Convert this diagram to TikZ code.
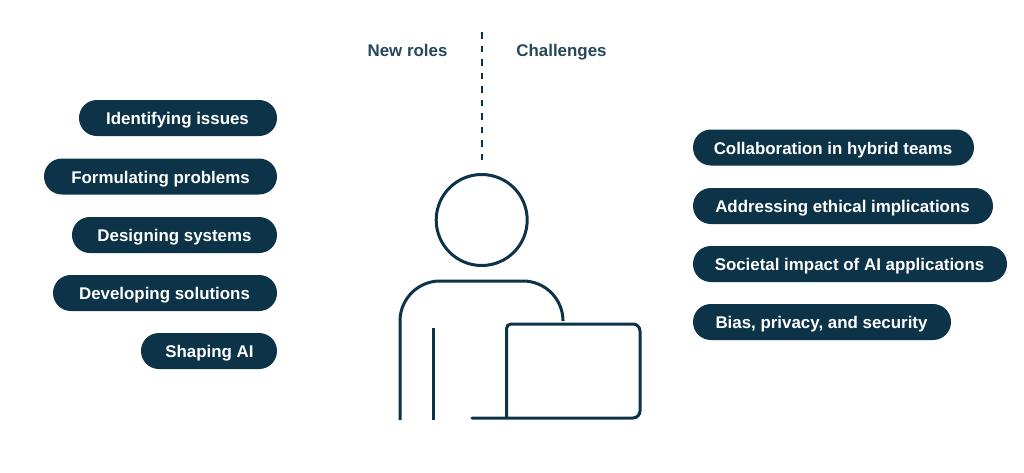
\documentclass[tikz,border=0pt]{standalone}
\usepackage{fontspec}
\setmainfont{Liberation Sans}
\definecolor{navy}{HTML}{0D3349}
\begin{document}
\begin{tikzpicture}[x=1pt,y=-1pt,
  pilltext/.style={text=white,font=\fontsize{16.9}{18}\selectfont\bfseries,anchor=base,inner sep=0pt},
  headtext/.style={text=navy!90,font=\fontsize{16.9}{18}\selectfont\bfseries,anchor=base,inner sep=0pt},
  figline/.style={draw=navy,line width=3pt}]
\useasboundingbox (0,0) rectangle (1024,472);
\newcommand{\pill}[6]{%
  \fill[navy,rounded corners=17.9pt] (#1,#3-18) rectangle (#2,#3+18);
  \node[pilltext] (#5) at (#4,#3+6.5) {#6};}
\pill{79}{277}{118}{177.5}{a}{Identifying issues}
\pill{44}{277}{176.5}{160.5}{b}{Formulating problems}
\pill{72}{277}{235}{174.5}{c}{Designing systems}
\pill{53}{277}{293}{164.5}{d}{Developing solutions}
\pill{141}{277}{351}{209.5}{e}{Shaping AI}
\pill{693}{974}{147.5}{833}{f}{Collaboration in hybrid teams}
\pill{693}{993}{206}{842.5}{g}{Addressing ethical implications}
\pill{693}{1007}{264}{849.5}{h}{Societal impact of AI applications}
\pill{693}{951}{322}{821.5}{i}{Bias, privacy, and security}
\node[headtext] (newroles) at (407.5,56.5) {New roles};
\node[headtext] (challenges) at (561.5,56.5) {Challenges};
\coordinate (dtop) at (482,32);
\coordinate (dbot) at (482,160);
\draw[navy,line width=2pt,dash pattern=on 6.5pt off 7pt] (dtop) -- (dbot);
\draw[figline] (481.7,220) circle (45.5);
\draw[figline,rounded corners=40pt] (400,420) -- (400,281) -- (563,281) -- (563,320);
\draw[figline] (433,328) -- (433,420);
\draw[figline,line cap=round] (472,418) -- (633,418) [rounded corners=7pt] -- (640,418) -- (640,324) [rounded corners=4.5pt] -- (506.5,324) [sharp corners] -- (506.5,418);
\end{tikzpicture}
\end{document}
